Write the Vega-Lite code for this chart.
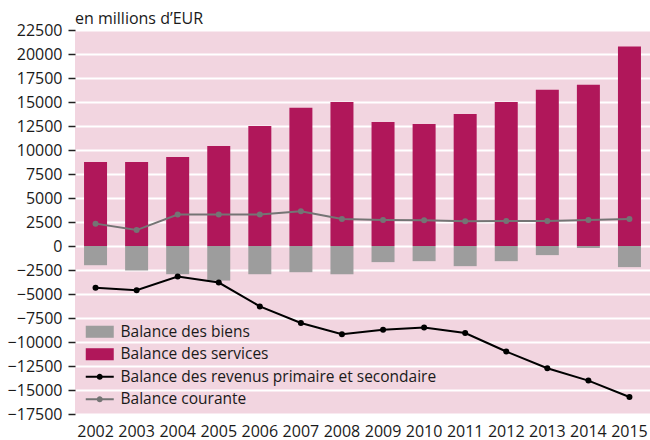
{
  "$schema": "https://vega.github.io/schema/vega-lite/v6.json",
  "width": 575,
  "height": 384,
  "autosize": {"type": "none"},
  "padding": {"left": 75, "top": 30, "right": 0, "bottom": 26},
  "background": "white",
  "title": {"text": "en millions d’EUR", "anchor": "start", "frame": "group", "font": "Open Sans", "fontSize": 16, "fontWeight": "normal", "color": "#1a1a1a", "offset": -18, "baseline": "alphabetic"},
  "config": {
    "view": {"fill": "#f2d5e0", "stroke": null},
    "font": "Open Sans",
    "axis": {"labelFont": "Open Sans", "labelFontSize": 16, "labelColor": "#1a1a1a", "title": null}
  },
  "data": {"values": [
    {"year": "2002", "series": "Balance des biens", "value": -2000},
    {"year": "2003", "series": "Balance des biens", "value": -2550},
    {"year": "2004", "series": "Balance des biens", "value": -2940},
    {"year": "2005", "series": "Balance des biens", "value": -3600},
    {"year": "2006", "series": "Balance des biens", "value": -2940},
    {"year": "2007", "series": "Balance des biens", "value": -2730},
    {"year": "2008", "series": "Balance des biens", "value": -2940},
    {"year": "2009", "series": "Balance des biens", "value": -1680},
    {"year": "2010", "series": "Balance des biens", "value": -1580},
    {"year": "2011", "series": "Balance des biens", "value": -2100},
    {"year": "2012", "series": "Balance des biens", "value": -1580},
    {"year": "2013", "series": "Balance des biens", "value": -950},
    {"year": "2014", "series": "Balance des biens", "value": -220},
    {"year": "2015", "series": "Balance des biens", "value": -2200},
    {"year": "2002", "series": "Balance des services", "value": 8750},
    {"year": "2003", "series": "Balance des services", "value": 8750},
    {"year": "2004", "series": "Balance des services", "value": 9270},
    {"year": "2005", "series": "Balance des services", "value": 10420},
    {"year": "2006", "series": "Balance des services", "value": 12510},
    {"year": "2007", "series": "Balance des services", "value": 14390},
    {"year": "2008", "series": "Balance des services", "value": 15010},
    {"year": "2009", "series": "Balance des services", "value": 12920},
    {"year": "2010", "series": "Balance des services", "value": 12720},
    {"year": "2011", "series": "Balance des services", "value": 13760},
    {"year": "2012", "series": "Balance des services", "value": 15010},
    {"year": "2013", "series": "Balance des services", "value": 16270},
    {"year": "2014", "series": "Balance des services", "value": 16800},
    {"year": "2015", "series": "Balance des services", "value": 20770},
    {"year": "2002", "series": "Balance des revenus primaire et secondaire", "value": -4360},
    {"year": "2003", "series": "Balance des revenus primaire et secondaire", "value": -4610},
    {"year": "2004", "series": "Balance des revenus primaire et secondaire", "value": -3180},
    {"year": "2005", "series": "Balance des revenus primaire et secondaire", "value": -3810},
    {"year": "2006", "series": "Balance des revenus primaire et secondaire", "value": -6290},
    {"year": "2007", "series": "Balance des revenus primaire et secondaire", "value": -8020},
    {"year": "2008", "series": "Balance des revenus primaire et secondaire", "value": -9180},
    {"year": "2009", "series": "Balance des revenus primaire et secondaire", "value": -8720},
    {"year": "2010", "series": "Balance des revenus primaire et secondaire", "value": -8480},
    {"year": "2011", "series": "Balance des revenus primaire et secondaire", "value": -9070},
    {"year": "2012", "series": "Balance des revenus primaire et secondaire", "value": -10990},
    {"year": "2013", "series": "Balance des revenus primaire et secondaire", "value": -12730},
    {"year": "2014", "series": "Balance des revenus primaire et secondaire", "value": -14020},
    {"year": "2015", "series": "Balance des revenus primaire et secondaire", "value": -15730},
    {"year": "2002", "series": "Balance courante", "value": 2330},
    {"year": "2003", "series": "Balance courante", "value": 1660},
    {"year": "2004", "series": "Balance courante", "value": 3280},
    {"year": "2005", "series": "Balance courante", "value": 3280},
    {"year": "2006", "series": "Balance courante", "value": 3280},
    {"year": "2007", "series": "Balance courante", "value": 3620},
    {"year": "2008", "series": "Balance courante", "value": 2810},
    {"year": "2009", "series": "Balance courante", "value": 2710},
    {"year": "2010", "series": "Balance courante", "value": 2690},
    {"year": "2011", "series": "Balance courante", "value": 2570},
    {"year": "2012", "series": "Balance courante", "value": 2600},
    {"year": "2013", "series": "Balance courante", "value": 2600},
    {"year": "2014", "series": "Balance courante", "value": 2710},
    {"year": "2015", "series": "Balance courante", "value": 2810}
  ]},
  "encoding": {
    "x": {"field": "year", "type": "ordinal", "scale": {"paddingInner": 0.44, "paddingOuter": 0.22},
      "axis": {"labelAngle": 0, "ticks": false, "domain": false, "grid": false, "labelPadding": 9}},
    "y": {"field": "value", "type": "quantitative",
      "scale": {"domain": [-17500, 22500], "nice": false, "zero": false},
      "axis": {"values": [-17500, -15000, -12500, -10000, -7500, -5000, -2500, 0, 2500, 5000, 7500, 10000, 12500, 15000, 17500, 20000, 22500],
        "format": "d", "domain": false, "grid": true, "gridColor": "white", "gridWidth": 2, "gridOpacity": 1,
        "tickSize": 7, "tickColor": "#222222", "tickWidth": 1.5, "labelPadding": 6}},
    "color": {"field": "series", "type": "nominal",
      "scale": {"domain": ["Balance des biens", "Balance des services", "Balance des revenus primaire et secondaire", "Balance courante"],
        "range": ["#9d9d9d", "#b0175a", "#000000", "#747474"]},
      "legend": {"title": null, "orient": "none", "legendX": 17, "legendY": 294, "padding": 0,
        "labelFont": "Open Sans", "labelFontSize": 15.5, "labelColor": "#1a1a1a", "labelOffset": 13, "rowPadding": 5.5, "symbolSize": 196, "labelLimit": 500,
        "encode": {"symbols": {"update": {
          "shape": {"signal": "indexof(['Balance des biens','Balance des services'], datum.value) >= 0 ? 'M-2,-0.86H2V0.86H-2Z' : 'M-2,-0.15H2V0.15H-2ZM0.43,0A0.43,0.43 0 1,1 -0.43,0A0.43,0.43 0 1,1 0.43,0Z'"},
          "fill": {"scale": "color", "field": "value"},
          "stroke": {"value": "transparent"},
          "strokeWidth": {"value": 0},
          "opacity": {"value": 1},
          "size": {"value": 196}
        }}}}
    }
  },
  "layer": [
    {
      "transform": [{"filter": "datum.series === 'Balance des biens' || datum.series === 'Balance des services'"}],
      "mark": {"type": "bar"},
      "encoding": {"y": {"field": "value", "type": "quantitative", "stack": null}}
    },
    {
      "transform": [{"filter": "datum.series !== 'Balance des biens' && datum.series !== 'Balance des services'"}],
      "mark": {"type": "line", "strokeWidth": 2, "point": {"size": 36, "filled": true}}
    }
  ]
}
